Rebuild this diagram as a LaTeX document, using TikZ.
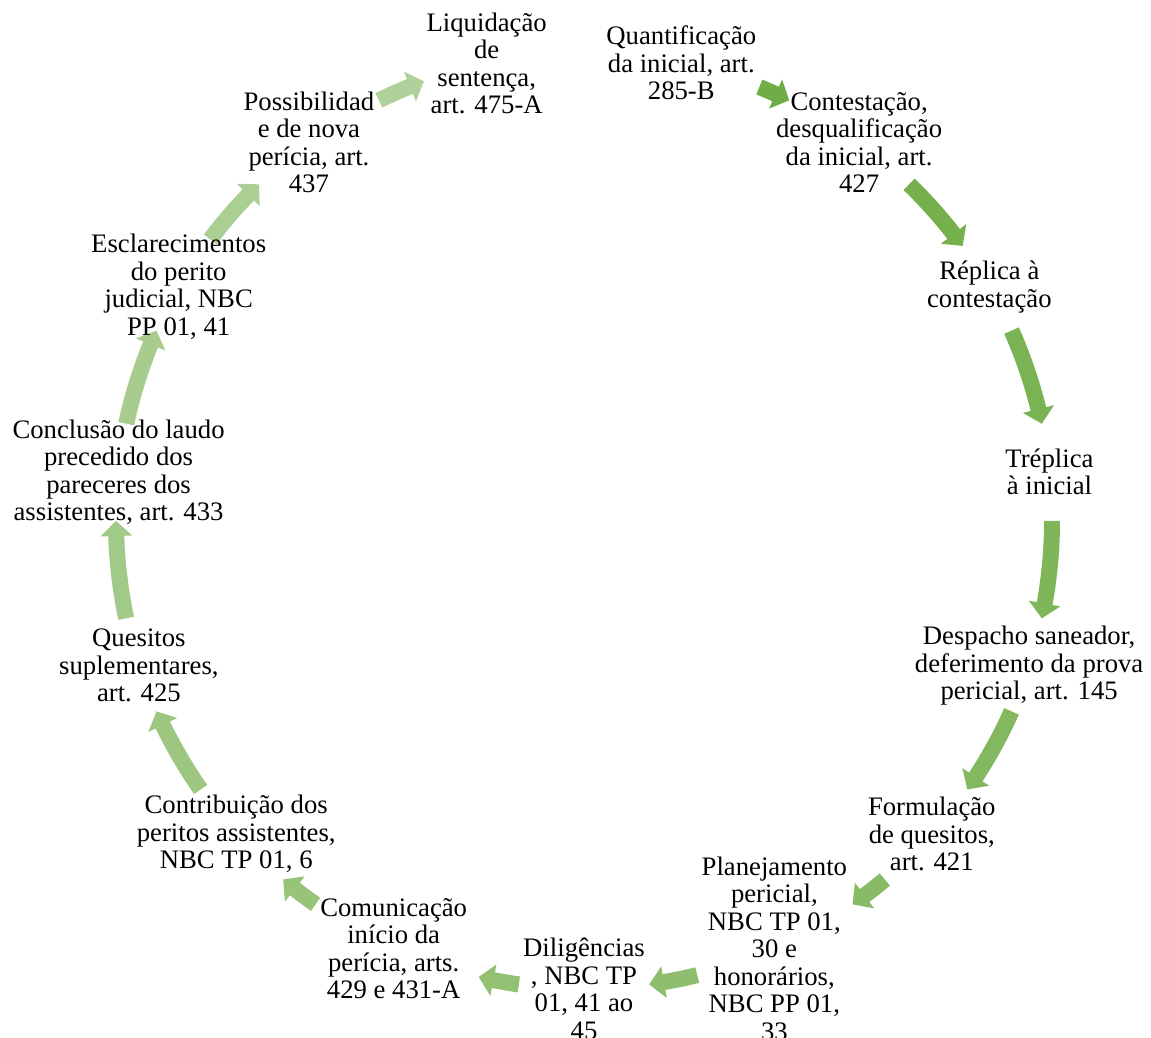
\documentclass[tikz,border=0pt]{standalone}
\usepackage{fontspec}
\setmainfont{Liberation Serif}
\definecolor{acc}{HTML}{70AD47}
\newcommand\cyclearrow[3]{%
  \pgfmathsetmacro\ah{#2+15/468*57.2958}%
  \fill[acc!#3!white, shift={(C)}] (#1:476) arc[start angle=#1,end angle=\ah,radius=476]
    -- (\ah:484) -- (#2:468) -- (\ah:452) -- (\ah:460)
    arc[start angle=\ah,end angle=#1,radius=460] -- cycle;}
\begin{document}
\begin{tikzpicture}[x=1pt,y=1pt,
  lbl/.style={align=center,inner sep=0pt,font=\fontsize{26.7}{27.5}\selectfont,text=black}]
\useasboundingbox (0,0) rectangle (1151,1038);
\fill[white] (0,0) rectangle (1151,1038);
\coordinate (C) at (584,517);
% arrows
\foreach \a/\b [count=\i] in {68/64,46/36,24/12,0/-12,-24/-35,-50/-55,-76/-82,-98/-103,-125/-130,-145/-156,-168/-180,168/156,143/134,116/110}{
  \pgfmathsetmacro\pc{100-(\i-1)*45/13}
  \cyclearrow{\a}{\b}{\pc}
}
% nodes
\node[lbl] (n1) at ([shift={(C)}]102:468) {Liquidação\\de\\sentença,\\art. 475-A};
\node[lbl] (n2) at ([shift={(C)}]78:468) {Quantificação\\da inicial, art.\\285-B};
\node[lbl] (n3) at ([shift={(C)}]54:468) {Contestação,\\desqualificação\\da inicial, art.\\427};
\node[lbl] (n4) at ([shift={(C)}]30:468) {Réplica à\\contestação};
\node[lbl] (n5) at ([shift={(C)}]6:468) {Tréplica\\à inicial};
\node[lbl] (n6) at ([shift={(C)}]-18:468) {Despacho saneador,\\deferimento da prova\\pericial, art. 145};
\node[lbl] (n7) at ([shift={(C)}]-42:468) {Formulação\\de quesitos,\\art. 421};
\node[lbl] (n8) at ([shift={(C)}]-66:468) {Planejamento\\pericial,\\NBC TP 01,\\30 e\\honorários,\\NBC PP 01,\\33};
\node[lbl] (n9) at ([shift={(C)}]-90:468) {Diligências\\, NBC TP\\01, 41 ao\\45};
\node[lbl] (n10) at ([shift={(C)}]-114:468) {Comunicação\\início da\\perícia, arts.\\429 e 431-A};
\node[lbl] (n11) at ([shift={(C)}]-138:468) {Contribuição dos\\peritos assistentes,\\NBC TP 01, 6};
\node[lbl] (n12) at ([shift={(C)}]-162:468) {Quesitos\\suplementares,\\art. 425};
\node[lbl] (n13) at ([shift={(C)}]174:468) {Conclusão do laudo\\precedido dos\\pareceres dos\\assistentes, art. 433};
\node[lbl] (n14) at ([shift={(C)}]150:468) {Esclarecimentos\\do perito\\judicial, NBC\\PP 01, 41};
\node[lbl] (n15) at ([shift={(C)}]126:468) {Possibilidad\\e de nova\\perícia, art.\\437};
\end{tikzpicture}
\end{document}
